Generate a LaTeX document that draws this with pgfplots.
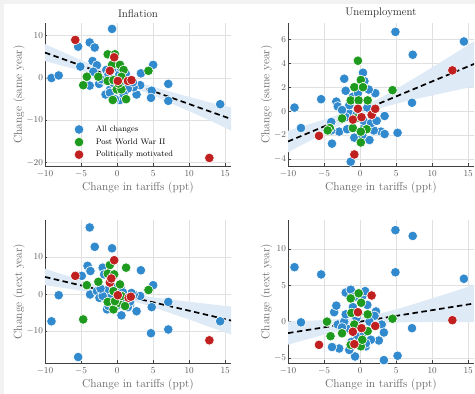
\documentclass[border=0pt]{standalone}
\usepackage{pgfplots}
\pgfplotsset{compat=1.18}
\usepackage{pgfplotstable}

\definecolor{cblue}{RGB}{50,138,206}
\definecolor{cgreen}{RGB}{30,155,30}
\definecolor{cred}{RGB}{192,32,32}
\definecolor{cband}{RGB}{222,234,246}

% ---------- Panel 1: Inflation, same year ----------
\pgfplotstableread{
x y
-9.1 0
-8.1 0.6
-0.7 11.6
-3.8 8.4
-3.1 7.2
-5.4 7.4
-3.4 4.0
-2.8 3.0
-5.1 2.7
5.0 3.1
3.3 1.1
7.1 -1.4
4.8 -3.0
4.7 -4.7
7.1 -5.4
14.3 -6.2
2.7 -3.9
-1.6 -3.9
-2.5 -1.4
-3.8 -1.8
0.4 -5.2
3.2 -1.7
2.3 -2.2
-1.5 1.9
-3.3 1.5
-1.0 -2.8
1.1 -0.1
-0.3 -5.0
-1.8 -0.5
-1.2 0.8
-0.6 2.2
0.3 0.8
0.8 -1.2
1.5 -2.5
-0.2 -2.0
0.9 -3.8
-1.0 -3.5
2.2 -1.0
1.2 1.0
-2.2 -0.3
0.5 2.5
-0.5 -1.2
}\blueA
\pgfplotstableread{
x y
-4.7 -1.7
-4.2 0.3
-2.6 0.3
-1.3 5.6
-0.3 5.6
-0.7 3.1
0.4 3.1
0.9 1.9
-1.3 -0.7
-0.05 -2.7
0.6 -2.7
-0.6 -5.2
1.25 -5.0
4.35 1.7
-0.5 -0.5
0.2 -1.3
0.6 0.3
}\greenA
\pgfplotstableread{
x y
-5.8 9.0
-0.4 4.9
-1.0 1.7
0.1 -0.7
1.5 -0.7
2.0 -0.5
12.8 -18.9
}\redA

% ---------- Panel 2: Unemployment, same year ----------
\pgfplotstableread{
x y
-9.1 0.3
-8.2 -1.4
-5.4 1.0
-3.9 -2.7
-2.2 2.7
-2.0 1.7
-2.9 -1.7
-3.3 0.8
-3.1 0.4
-4.0 -1.6
-4.0 -0.9
0.4 3.2
0.6 2.5
2.1 1.5
3.4 -0.4
2.9 -1.7
3.4 -1.9
1.3 -2.4
-1.3 -4.2
-0.8 -2.2
4.9 6.6
7.3 4.7
7.2 0.7
5.2 -1.8
14.4 5.8
-1.5 -0.2
0.6 -1.3
1.9 -1.6
-1.5 0.5
-1.0 1.2
-0.5 -0.3
0.5 -0.8
1.0 0.3
1.5 -1.0
-2.0 -0.5
0.3 -2.0
-1.8 -1.5
1.2 1.8
-0.3 1.5
2.3 -0.8
-2.5 0.1
}\blueB
\pgfplotstableread{
x y
-0.3 4.2
0.1 2.6
-0.8 2.0
0.4 2.0
-1.3 0.9
-0.2 0.9
1.05 0.9
4.5 1.75
-2.5 -0.6
-4.2 -1.4
-4.5 -1.6
-1.0 -1.4
0.9 -1.5
0.1 -2.6
0.1 -1.7
-0.6 -0.6
}\greenB
\pgfplotstableread{
x y
-5.7 -2.05
-0.8 -3.6
-1.0 -0.7
-0.3 0.2
0.2 -0.5
1.6 -0.3
2.1 0.2
12.8 3.4
}\redB

% ---------- Panel 3: Inflation, next year ----------
\pgfplotstableread{
x y
-9.1 -7.3
-8.1 -0.3
-5.4 -16.9
-3.8 17.9
-3.1 12.7
-0.7 12.3
-4.1 7.6
-3.7 6.2
-4.9 4.9
-2.0 7.1
3.3 6.4
5.0 2.4
4.8 -3.5
4.7 -10.5
7.1 -2.1
7.1 -9.5
14.3 -7.3
2.7 -4.6
0.6 -5.7
3.2 -0.5
2.3 -0.1
-3.75 -0.1
-2.8 0.8
-2.45 -1.0
-1.4 -4.1
-1.8 5.3
1.8 -2.8
-1.5 1.0
-1.0 -1.0
-0.5 2.0
0.5 1.5
1.0 -1.5
1.5 -3.5
-2.0 -0.5
0.0 -3.0
2.0 0.3
-1.2 -3.2
0.8 0.5
-2.3 1.5
1.8 -2.0
}\blueC
\pgfplotstableread{
x y
-4.2 2.4
-4.7 -6.8
-2.6 3.3
1.25 7.1
-1.0 7.8
-1.3 5.5
-0.4 5.3
4.35 1.1
-1.3 -2.1
-0.5 -4.1
0.2 -2.3
1.1 -3.2
0.4 2.6
-0.5 0.8
-0.3 -1.9
0.6 -0.5
}\greenC
\pgfplotstableread{
x y
-5.8 4.9
-0.4 9.1
-1.0 3.1
-0.8 4.2
0.1 -0.3
1.6 -1.0
1.9 -0.7
12.8 -12.4
}\redC

% ---------- Panel 4: Unemployment, next year ----------
\pgfplotstableread{
x y
-9.1 7.5
-8.2 -0.1
-5.4 6.5
-4.5 0
4.9 12.6
7.3 11.8
4.9 6.8
7.2 -0.9
5.2 -4.7
3.3 -5.3
14.4 5.9
-3.6 1.3
-3.3 2.2
-2.0 4.0
-1.3 4.4
-2.9 -3.7
-3.9 -3.5
-3.1 -0.4
2.2 1.4
3.0 -0.4
3.3 -1.5
2.6 -2.6
-0.7 -4.8
0.8 -3.4
0.6 4.2
-1.5 -3.9
-2.2 0
-1.5 -1.0
-1.0 2.0
-0.5 -2.0
0.5 -1.5
1.0 2.3
1.5 -2.5
-2.0 1.0
0.3 3.5
-1.2 -2.8
0.8 -3.0
-0.5 0.5
2.0 0.8
-2.5 -0.8
1.3 0.0
-0.8 3.4
0.7 4.2
}\blueD
\pgfplotstableread{
x y
-4.6 0
-4.1 -2.0
-2.5 -1.6
-1.3 3.2
-0.2 3.9
0.15 2.6
-1.2 1.2
1.05 1.0
4.5 0.4
-1.3 -3.2
0.1 -3.4
1.05 -1.3
-0.8 -0.4
0.3 -2.5
-0.2 1.2
}\greenD
\pgfplotstableread{
x y
-5.7 -3.2
-0.8 -3.1
-1.0 -1.4
-0.3 1.3
0.2 -0.9
1.6 3.6
2.1 -0.6
12.8 0.2
}\redD

\pgfplotsset{
  panel/.style={
    scale only axis, width=186pt, height=143pt,
    xmin=-10, xmax=15.8, xtick={-10,-5,0,5,10,15},
    axis lines*=left,
    axis line style={black!75, line width=0.8pt},
    tick style={black!75, line width=0.6pt},
    tick align=inside, major tick length=2.5pt,
    grid=major, grid style={black!12, line width=0.6pt},
    ticklabel style={font=\fontsize{9}{10}\selectfont, text=black!65},
    xticklabel style={yshift=-1.5pt},
    yticklabel style={xshift=1.5pt},
    xlabel={Change in tariffs (ppt)},
    label style={font=\fontsize{11.5}{13}\selectfont, text=black!60},
    xlabel style={yshift=3pt},
    ylabel style={yshift=-5pt},
    title style={font=\fontsize{11}{13}\selectfont, text=black!85, yshift=-4pt},
    clip=true,
  },
  pb/.style={only marks, mark=*, mark size=4.8pt, mark options={fill=cblue, draw=white, line width=0.6pt}},
  pg/.style={only marks, mark=*, mark size=4.8pt, mark options={fill=cgreen, draw=white, line width=0.6pt}},
  pr/.style={only marks, mark=*, mark size=4.8pt, mark options={fill=cred, draw=white, line width=0.6pt}},
  fitline/.style={black, line width=1.7pt, dash pattern=on 5.5pt off 3.5pt, forget plot},
  bandfill/.style={draw=none, fill=cband, forget plot},
}

\begin{document}
\begin{tikzpicture}
\useasboundingbox (0,0) rectangle (475pt,394pt);
\fill[black!5] (0,390pt) rectangle (475pt,394pt);
\fill[black!5] (0,0) rectangle (4pt,394pt);

% Panel 1
\begin{axis}[panel, at={(45pt,228pt)}, anchor=south west,
  ymin=-20.8, ymax=13, ytick={-20,-10,0,10},
  title={Inflation}, ylabel={Change (same year)},
  legend style={draw=none, fill=none, font=\fontsize{8}{9}\selectfont,
    at={(0.14,0.31)}, anchor=north west, row sep=1.5pt,
    /tikz/every odd column/.append style={column sep=10pt}},
  legend cell align=left]
\addplot[bandfill] coordinates {(-10,8.0) (-7.5,6.11) (-5,4.24) (-2.5,2.43) (0,0.74) (2.5,-0.76) (5,-2.08) (7.5,-3.29) (10,-4.46) (13,-5.83) (16,-7.01)
 (16,-12.61) (13,-10.13) (10,-7.86) (7.5,-5.99) (5,-4.16) (2.5,-2.44) (0,-0.90) (-2.5,0.45) (-5,1.68) (-7.5,2.85) (-10,4.0)} -- cycle;
\addplot[pb] table {\blueA};
\addplot[pg] table {\greenA};
\addplot[pr] table {\redA};
\addplot[fitline] coordinates {(-10,6.0) (16,-9.81)};
\legend{All changes, Post World War II, Politically motivated}
\end{axis}

% Panel 2
\begin{axis}[panel, at={(288pt,228pt)}, anchor=south west,
  ymin=-4.56, ymax=7.34, ytick={-4,-2,0,2,4,6},
  title={Unemployment}, ylabel={Change (same year)}]
\addplot[bandfill] coordinates {(-10,-1.62) (-7.5,-1.165) (-5,-0.70) (-2.5,-0.205) (0,0.34) (2.5,1.005) (5,1.84) (7.5,2.735) (10,3.65) (13,4.76) (16,5.88)
 (16,2.08) (13,1.70) (10,1.31) (7.5,0.975) (5,0.62) (2.5,0.205) (0,-0.38) (-2.5,-1.085) (-5,-1.84) (-7.5,-2.625) (-10,-3.42)} -- cycle;
\addplot[pb] table {\blueB};
\addplot[pg] table {\greenB};
\addplot[pr] table {\redB};
\addplot[fitline] coordinates {(-10,-2.52) (16,3.98)};
\end{axis}

% Panel 3
\begin{axis}[panel, at={(45pt,31pt)}, anchor=south west,
  ymin=-18.5, ymax=19.9, ytick={-10,0,10},
  ylabel={Change (next year)}]
\addplot[bandfill] coordinates {(-10,6.8) (-7.5,5.26) (-5,3.755) (-2.5,2.30) (0,0.99) (2.5,-0.09) (5,-0.865) (7.5,-1.49) (10,-2.07) (13,-2.73) (16,-3.38)
 (16,-10.98) (13,-8.91) (10,-6.85) (7.5,-5.17) (5,-3.525) (2.5,-2.03) (0,-0.85) (-2.5,0.10) (-5,0.915) (-7.5,1.68) (-10,2.4)} -- cycle;
\addplot[pb] table {\blueC};
\addplot[pg] table {\greenC};
\addplot[pr] table {\redC};
\addplot[fitline] coordinates {(-10,4.6) (16,-7.18)};
\end{axis}

% Panel 4
\begin{axis}[panel, at={(288pt,31pt)}, anchor=south west,
  ymin=-5.7, ymax=14, ytick={-5,0,5,10},
  ylabel={Change (next year)}]
\addplot[bandfill] coordinates {(-10,0.02) (-7.5,0.105) (-5,0.22) (-2.5,0.365) (0,0.61) (2.5,1.045) (5,1.69) (7.5,2.435) (10,3.21) (13,4.16) (16,5.13)
 (16,-0.07) (13,-0.06) (10,-0.05) (7.5,-0.065) (5,-0.11) (2.5,-0.255) (0,-0.61) (-2.5,-1.155) (-5,-1.80) (-7.5,-2.475) (-10,-3.18)} -- cycle;
\addplot[pb] table {\blueD};
\addplot[pg] table {\greenD};
\addplot[pr] table {\redD};
\addplot[fitline] coordinates {(-10,-1.58) (16,2.53)};
\end{axis}
\end{tikzpicture}
\end{document}
